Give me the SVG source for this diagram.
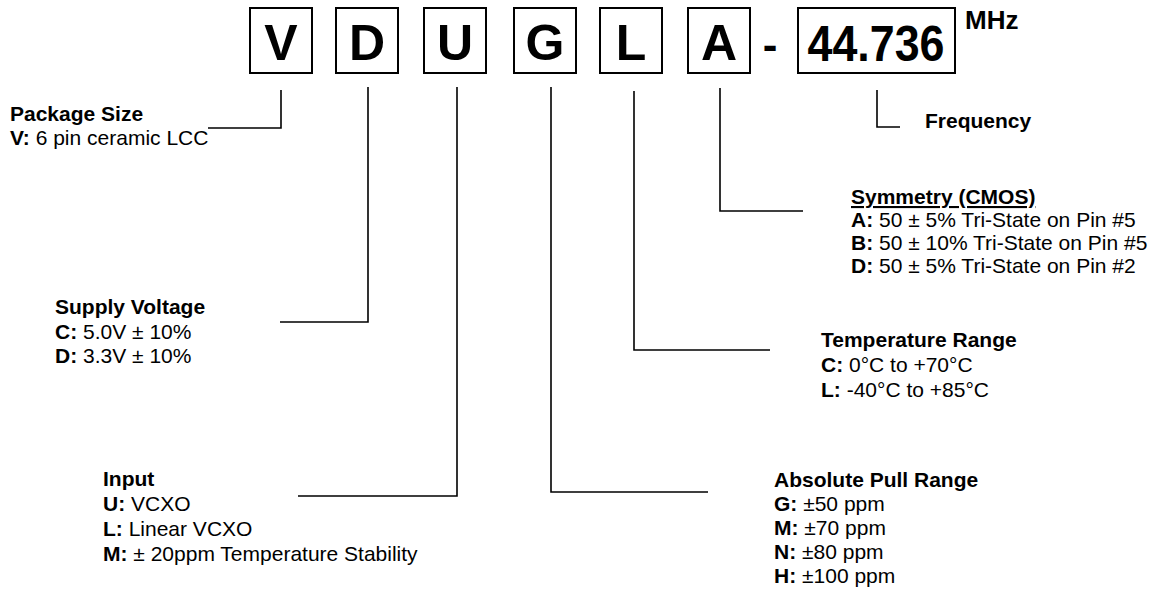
<svg xmlns="http://www.w3.org/2000/svg" width="1156" height="592" viewBox="0 0 1156 592">
<style>
.box{fill:none;stroke:#000;stroke-width:2}
.big{font-family:"Liberation Sans",Arial,sans-serif;font-weight:bold;font-size:50px;fill:#000;text-anchor:middle}
.t{font-family:"Liberation Sans",Arial,sans-serif;font-size:21px;fill:#000}
.b{font-weight:bold}
.ln{fill:none;stroke:#000;stroke-width:1.6}
</style>
<rect width="1156" height="592" fill="#fff"/>
<g id="code">
<g id="box-V"><rect class="box" x="250" y="8" width="62" height="65"/><text class="big" x="281" y="60">V</text></g>
<g id="box-D"><rect class="box" x="336" y="8" width="62" height="65"/><text class="big" x="367" y="60">D</text></g>
<g id="box-U"><rect class="box" x="424" y="8" width="62" height="65"/><text class="big" x="455" y="60">U</text></g>
<g id="box-G"><rect class="box" x="514" y="8" width="62" height="65"/><text class="big" x="545" y="60">G</text></g>
<g id="box-L"><rect class="box" x="600" y="8" width="62" height="65"/><text class="big" x="631" y="60">L</text></g>
<g id="box-A"><rect class="box" x="688" y="8" width="62" height="65"/><text class="big" x="719" y="60">A</text></g>
<g id="dash"><text class="big" x="770" y="60" style="font-size:44px">-</text></g>
<g id="box-freq"><rect class="box" x="798" y="8" width="157" height="65"/><text class="big" x="876" y="61" textLength="137" lengthAdjust="spacingAndGlyphs">44.736</text></g>
<g id="mhz"><text class="t b" x="965" y="29" style="font-size:26px">MHz</text></g>
</g>
<g id="connectors">
<polyline class="ln" points="281,90 281,128 208,128"/>
<polyline class="ln" points="368,87 368,322 280,322"/>
<polyline class="ln" points="457,87 457,496 298,496"/>
<polyline class="ln" points="551,87 551,492 708,492"/>
<polyline class="ln" points="634,91 634,350 770,350"/>
<polyline class="ln" points="720,88 720,211 803,211"/>
<polyline class="ln" points="877,90 877,127 900,127"/>
</g>
<g id="package-size">
<text class="t b" x="10" y="121">Package Size</text>
<text class="t" x="10" y="145"><tspan class="b">V:</tspan> 6 pin ceramic LCC</text>
</g>
<g id="supply-voltage">
<text class="t b" x="55" y="314">Supply Voltage</text>
<text class="t" x="55" y="339"><tspan class="b">C:</tspan> 5.0V ± 10%</text>
<text class="t" x="55" y="363"><tspan class="b">D:</tspan> 3.3V ± 10%</text>
</g>
<g id="input">
<text class="t b" x="103" y="486">Input</text>
<text class="t" x="103" y="511"><tspan class="b">U:</tspan> VCXO</text>
<text class="t" x="103" y="536"><tspan class="b">L:</tspan> Linear VCXO</text>
<text class="t" x="103" y="561"><tspan class="b">M:</tspan> ± 20ppm Temperature Stability</text>
</g>
<g id="pull-range">
<text class="t b" x="774" y="487">Absolute Pull Range</text>
<text class="t" x="774" y="511"><tspan class="b">G:</tspan> ±50 ppm</text>
<text class="t" x="774" y="535"><tspan class="b">M:</tspan> ±70 ppm</text>
<text class="t" x="774" y="559"><tspan class="b">N:</tspan> ±80 ppm</text>
<text class="t" x="774" y="583"><tspan class="b">H:</tspan> ±100 ppm</text>
</g>
<g id="temperature-range">
<text class="t b" x="821" y="347">Temperature Range</text>
<text class="t" x="821" y="372"><tspan class="b">C:</tspan> 0°C to +70°C</text>
<text class="t" x="821" y="397"><tspan class="b">L:</tspan> -40°C to +85°C</text>
</g>
<g id="symmetry">
<text class="t b" x="851" y="204" text-decoration="underline">Symmetry (CMOS)</text>
<text class="t" x="851" y="227"><tspan class="b">A:</tspan> 50 ± 5% Tri-State on Pin #5</text>
<text class="t" x="851" y="250"><tspan class="b">B:</tspan> 50 ± 10% Tri-State on Pin #5</text>
<text class="t" x="851" y="273"><tspan class="b">D:</tspan> 50 ± 5% Tri-State on Pin #2</text>
</g>
<g id="frequency">
<text class="t b" x="925" y="128">Frequency</text>
</g>
</svg>
